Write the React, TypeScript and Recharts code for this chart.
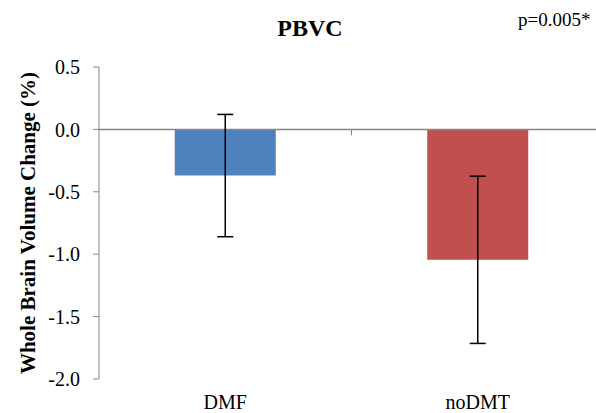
import * as Recharts from "recharts";
import { BarChart, Bar, XAxis, YAxis, Cell, ErrorBar, ReferenceLine } from "recharts";

const groups = ["DMF", "noDMT"];
const means = [-0.37, -1.045];
const errors = [0.49, 0.67];
const yTicks = [0.5, 0, -0.5, -1, -1.5, -2];
const colors = ["#4F81BD", "#C0504D"];

const data = groups.map((g, i) => ({ name: g, value: means[i], err: errors[i] }));

const serif = "'Liberation Serif', 'Times New Roman', serif";
const axisGray = "#868686";

// small tick mark between the two categories, sitting on the zero line
function Separator() {
  const usePlotArea = (Recharts as any).usePlotArea;
  const area = usePlotArea ? usePlotArea() : null;
  if (!area) return null;
  const x = area.x + area.width / 2;
  const y0 = area.y + (area.height * (0.5 - 0)) / 2.5;
  return <line x1={x} x2={x} y1={y0} y2={y0 + 6} stroke={axisGray} strokeWidth={1} />;
}

export default function App() {
  return (
    <div
      style={{
        position: "absolute",
        left: 0,
        top: 0,
        width: 596,
        height: 413,
        overflow: "hidden",
        background: "#fff",
        fontFamily: serif,
      }}
    >
      <div
        style={{
          position: "absolute",
          left: 0,
          width: 620,
          top: 15,
          textAlign: "center",
          fontWeight: "bold",
          fontSize: 24,
        }}
      >
        PBVC
      </div>
      <div style={{ position: "absolute", left: 518, top: 9, fontSize: 19 }}>p=0.005*</div>
      <BarChart
        width={606}
        height={413}
        data={data}
        margin={{ top: 67, right: 2, bottom: 0, left: 0 }}
        barCategoryGap="30%"
      >
        <XAxis
          dataKey="name"
          height={34}
          axisLine={false}
          tickLine={false}
          tickMargin={10}
          tick={{ fontSize: 20, fill: "#000", fontFamily: serif }}
        />
        <YAxis
          width={99}
          domain={[-2, 0.5]}
          ticks={yTicks}
          interval={0}
          tickFormatter={(v: number) => v.toFixed(1)}
          stroke={axisGray}
          tickSize={6}
          tickMargin={13}
          tick={{ fontSize: 20, fill: "#000", fontFamily: serif }}
          label={{
            value: "Whole Brain Volume Change (%)",
            angle: -90,
            position: "insideLeft",
            offset: 28,
            style: { fontSize: 21, fontWeight: "bold", fill: "#000", fontFamily: serif, textAnchor: "middle" },
          }}
        />
        <ReferenceLine y={0} stroke={axisGray} strokeWidth={1.5} />
        <Bar dataKey="value" isAnimationActive={false}>
          {data.map((d, i) => (
            <Cell key={d.name} fill={colors[i]} />
          ))}
          <ErrorBar dataKey="err" width={8} stroke="#000" strokeWidth={1.5} />
        </Bar>
        <Separator />
      </BarChart>
    </div>
  );
}
